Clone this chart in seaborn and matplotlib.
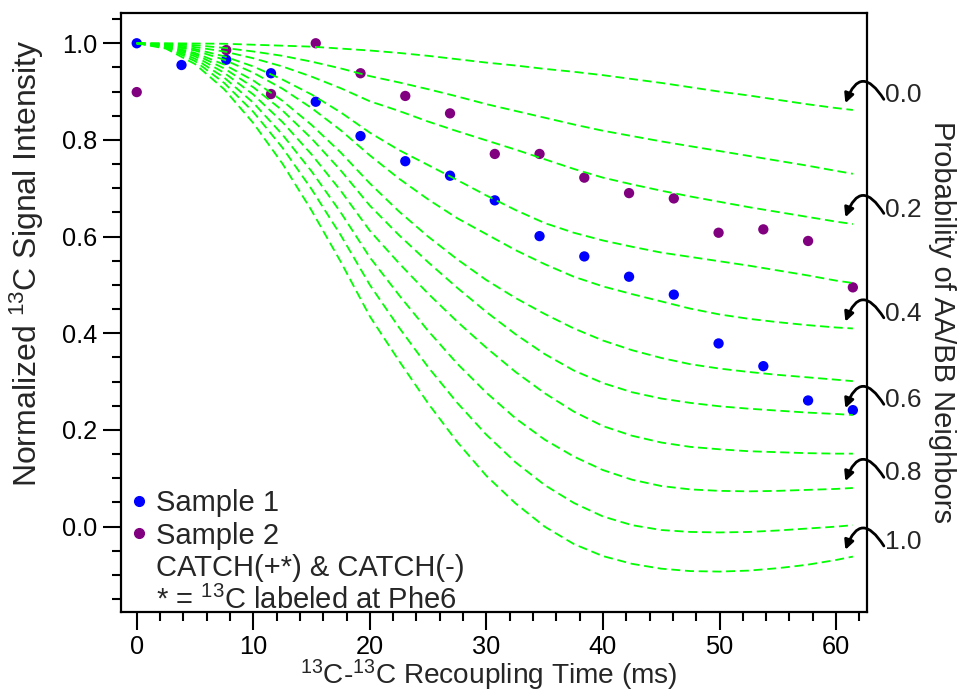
import numpy as np
import pandas as pd
import matplotlib
matplotlib.use("Agg")
import matplotlib.pyplot as plt
import seaborn as sns
from matplotlib.lines import Line2D
from matplotlib.ticker import MultipleLocator, FormatStrFormatter

# ---------------- data ----------------
t_sim = [0, 2.5, 5, 7.5, 10, 12.5, 15, 17.5, 20, 22.5, 25, 27.5, 30, 32.5, 35,
         37.5, 40, 42.5, 45, 47.5, 50, 52.5, 55, 57.5, 60, 61.44]

prob_labels = ["0.0", "0.1", "0.2", "0.3", "0.4", "0.5", "0.6", "0.7", "0.8", "0.9", "1.0"]

curve_p00 = [1.000, 1.000, 0.9995, 0.999, 0.997, 0.995, 0.993, 0.989, 0.985, 0.980, 0.974,
             0.967, 0.960, 0.954, 0.947, 0.941, 0.934, 0.926, 0.918, 0.909, 0.900,
             0.892, 0.883, 0.874, 0.866, 0.862]
curve_p01 = [1.000, 0.999, 0.996, 0.9905, 0.983, 0.974, 0.962, 0.948, 0.932, 0.919, 0.905,
             0.890, 0.874, 0.860, 0.846, 0.832, 0.819, 0.808, 0.797, 0.787, 0.777,
             0.767, 0.757, 0.747, 0.736, 0.730]
curve_p02 = [1.000, 0.998, 0.992, 0.983, 0.969, 0.952, 0.931, 0.907, 0.880, 0.860, 0.838,
             0.818, 0.799, 0.780, 0.760, 0.740, 0.722, 0.708, 0.695, 0.683, 0.672,
             0.661, 0.651, 0.641, 0.631, 0.626]
curve_p03 = [1.000, 0.997, 0.988, 0.973, 0.952, 0.925, 0.894, 0.857, 0.815, 0.779, 0.748,
             0.717, 0.685, 0.655, 0.628, 0.608, 0.592, 0.579, 0.567, 0.558, 0.549,
             0.540, 0.530, 0.520, 0.509, 0.504]
curve_p04 = [1.000, 0.996, 0.985, 0.966, 0.939, 0.906, 0.866, 0.820, 0.768, 0.720, 0.677,
             0.638, 0.605, 0.572, 0.543, 0.517, 0.497, 0.481, 0.466, 0.451, 0.439,
             0.430, 0.423, 0.417, 0.412, 0.410]
curve_p05 = [1.000, 0.995, 0.980, 0.956, 0.923, 0.881, 0.831, 0.774, 0.710, 0.652, 0.600,
             0.553, 0.510, 0.473, 0.440, 0.410, 0.385, 0.365, 0.349, 0.336, 0.327,
             0.320, 0.314, 0.309, 0.304, 0.301]
curve_p06 = [1.000, 0.994, 0.977, 0.948, 0.909, 0.861, 0.803, 0.737, 0.664, 0.603, 0.547,
             0.494, 0.444, 0.398, 0.357, 0.323, 0.297, 0.278, 0.265, 0.256, 0.249,
             0.244, 0.240, 0.236, 0.233, 0.231]
curve_p07 = [1.000, 0.993, 0.973, 0.939, 0.894, 0.837, 0.770, 0.695, 0.612, 0.545, 0.482,
             0.424, 0.370, 0.320, 0.276, 0.238, 0.208, 0.188, 0.174, 0.165, 0.160,
             0.156, 0.154, 0.152, 0.151, 0.151]
curve_p08 = [1.000, 0.992, 0.968, 0.929, 0.877, 0.811, 0.735, 0.650, 0.557, 0.479, 0.405,
             0.337, 0.277, 0.224, 0.180, 0.145, 0.117, 0.097, 0.084, 0.077, 0.074,
             0.073, 0.074, 0.076, 0.078, 0.080]
curve_p09 = [1.000, 0.991, 0.963, 0.918, 0.858, 0.784, 0.698, 0.603, 0.500, 0.412, 0.330,
             0.256, 0.190, 0.133, 0.086, 0.049, 0.021, 0.003, -0.007, -0.011, -0.012,
             -0.011, -0.008, -0.004, 0.000, 0.003]
curve_p10 = [1.000, 0.989, 0.957, 0.905, 0.835, 0.751, 0.654, 0.548, 0.435, 0.343, 0.255,
             0.175, 0.105, 0.048, 0.000, -0.036, -0.061, -0.077, -0.087, -0.092, -0.093,
             -0.091, -0.086, -0.079, -0.069, -0.062]

t_sample1 = [0, 3.84, 7.68, 11.52, 15.36, 19.2, 23.04, 26.88, 30.72, 34.56, 38.4,
             42.24, 46.08, 49.92, 53.76, 57.6, 61.44]
sample1 = [1.000, 0.955, 0.966, 0.938, 0.879, 0.808, 0.756, 0.726, 0.675, 0.601, 0.559,
           0.517, 0.480, 0.379, 0.332, 0.261, 0.241]

t_sample2 = [0, 7.68, 11.52, 15.36, 19.2, 23.04, 26.88, 30.72, 34.56, 38.4,
             42.24, 46.08, 49.92, 53.76, 57.6, 61.44]
sample2 = [0.899, 0.986, 0.895, 1.000, 0.938, 0.891, 0.855, 0.771, 0.771, 0.722,
           0.690, 0.679, 0.608, 0.615, 0.591, 0.495]

arrow_labels = ["0.0", "0.2", "0.4", "0.6", "0.8", "1.0"]

# ---------------- style ----------------
sns.set_theme(style="white")
plt.rcParams["font.family"] = ["Liberation Sans", "DejaVu Sans"]
plt.rcParams["mathtext.fontset"] = "custom"
plt.rcParams["mathtext.rm"] = "Liberation Sans"
plt.rcParams["mathtext.it"] = "Liberation Sans"
plt.rcParams["mathtext.default"] = "regular"

curves = [curve_p00, curve_p01, curve_p02, curve_p03, curve_p04, curve_p05,
          curve_p06, curve_p07, curve_p08, curve_p09, curve_p10]
sim_df = pd.DataFrame({
    "t": np.tile(t_sim, len(curves)),
    "S": np.concatenate(curves),
    "p": np.repeat(prob_labels, len(t_sim)),
})
samp_df = pd.DataFrame({
    "t": t_sample1 + t_sample2,
    "S": sample1 + sample2,
    "sample": ["Sample 1"] * len(sample1) + ["Sample 2"] * len(sample2),
})

BLUE = "#0000ff"
PURPLE = "#800080"
GREEN = "#00ff00"

fig = plt.figure(figsize=(9.6, 6.91), dpi=100)
W, H = 960, 691
ax = fig.add_axes([121 / W, 1 - 611.7 / H, (867.3 - 121) / W, (611.7 - 13.3) / H])

sns.scatterplot(data=samp_df, x="t", y="S", hue="sample",
                palette={"Sample 1": BLUE, "Sample 2": PURPLE},
                s=55, linewidth=0, ax=ax, zorder=2, legend=False)
sns.lineplot(data=sim_df, x="t", y="S", hue="p",
             palette={p: GREEN for p in prob_labels}, legend=False, ax=ax,
             linewidth=1.3, linestyle=(0, (5, 2.6)), zorder=3,
             estimator=None, sort=False)

ax.set_xlim(-1.35, 62.68)
ax.set_ylim(-0.176, 1.062)
ax.xaxis.set_major_locator(MultipleLocator(10))
ax.xaxis.set_minor_locator(MultipleLocator(2))
ax.set_yticks([0.0, 0.2, 0.4, 0.6, 0.8, 1.0])
ax.yaxis.set_minor_locator(MultipleLocator(0.05))
ax.yaxis.set_major_formatter(FormatStrFormatter("%.1f"))
ax.tick_params(which="major", direction="out", length=13, width=1.5,
               labelsize=18.3, left=True, bottom=True, right=False, top=False,
               colors="black")
ax.tick_params(which="minor", direction="out", length=6.5, width=1.5,
               left=True, bottom=True, right=False, top=False, colors="black")
ax.tick_params(axis="y", which="major", pad=4)
ax.tick_params(axis="x", which="major", pad=4)
for sp in ax.spines.values():
    sp.set_color("black")
    sp.set_linewidth(1.6)
ax.set_xlabel("")
ax.set_ylabel("")

fig.text(27 / W, 1 - 263 / H, "Normalized $^{13}$C Signal Intensity",
         rotation=90, ha="center", va="center", fontsize=23)
fig.text(489 / W, 1 - 684 / H, "$^{13}$C-$^{13}$C Recoupling Time (ms)",
         ha="center", va="baseline", fontsize=20.2)
ax.text(1.100, 0.484, "Probability of AA/BB Neighbors", transform=ax.transAxes,
        rotation=270, ha="center", va="center", fontsize=21)

# legend
handles = [Line2D([], [], marker="o", ls="", color=BLUE, markersize=7),
           Line2D([], [], marker="o", ls="", color=PURPLE, markersize=7),
           Line2D([], [], ls="", marker=""),
           Line2D([], [], ls="", marker="")]
labels = ["Sample 1", "Sample 2", "CATCH(+*) & CATCH(-)",
          "* = $^{13}$C labeled at Phe6"]
leg = ax.legend(handles, labels, loc="lower left", bbox_to_anchor=(0.0, -0.02),
                frameon=False, fontsize=21, handlelength=0.6,
                handletextpad=0.3, labelspacing=0.14, borderaxespad=0.2,
                borderpad=0.1)

# arrows pointing to curve ends
idx_map = {"0.0": 0, "0.2": 2, "0.4": 4, "0.6": 6, "0.8": 8, "1.0": 10}
for lab in arrow_labels:
    yend = curves[idx_map[lab]][-1]
    ax.text(64.2, yend + 0.030, lab, ha="left", va="center", fontsize=19,
            clip_on=False)
    ax.annotate("", xy=(60.8, yend + 0.014), xytext=(64.1, yend + 0.022),
                arrowprops=dict(arrowstyle="-|>", connectionstyle="arc3,rad=1.0",
                                color="black", lw=2, shrinkA=0, shrinkB=0,
                                mutation_scale=14),
                annotation_clip=False)

fig.savefig("out.png", dpi=100)
